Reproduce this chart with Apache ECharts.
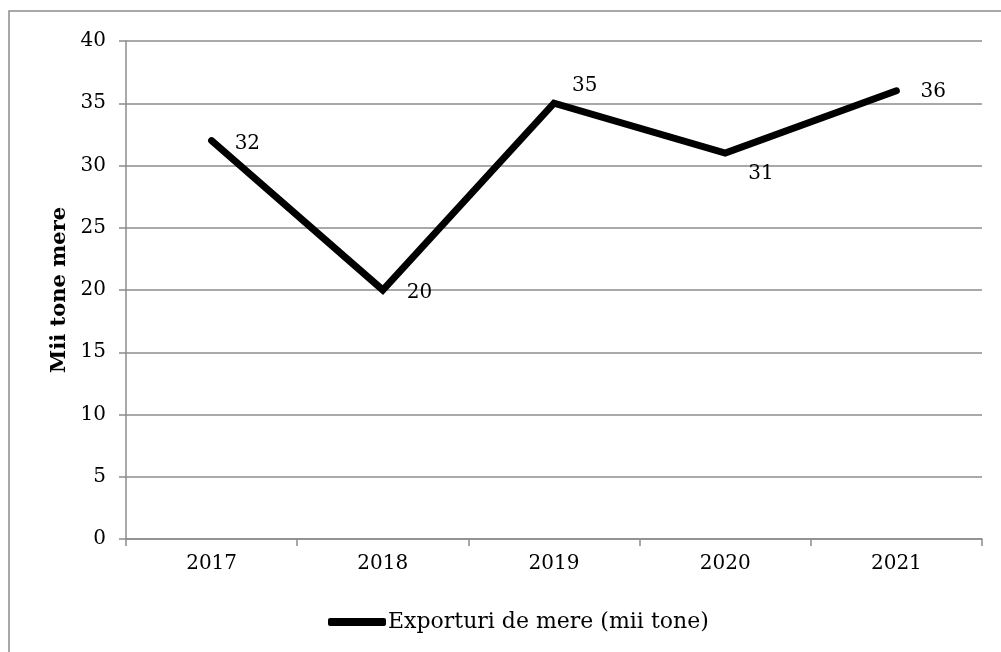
<!DOCTYPE html>
<html><head><meta charset="utf-8">
<script src="https://cdn.jsdelivr.net/npm/echarts@6/dist/echarts.min.js"></script>
<style>html,body{margin:0;padding:0;background:#fff}#c{width:1001px;height:652px}</style>
</head><body><div id="c"></div>
<script>
const categories = ['2017','2018','2019','2020','2021'];
const values = [32, 20, 35, 31, 36];
const yTicks = [0, 5, 10, 15, 20, 25, 30, 35, 40];
const seriesName = 'Exporturi de mere (mii tone)';
const yTitle = 'Mii tone mere';
const labelOffsets = [[18,3],[19,3],[13,-17],[18,21],[19,1]];

const FONT = 'Georgia, "DejaVu Serif", "Liberation Serif", serif';
const chart = echarts.init(document.getElementById('c'), null, {renderer:'canvas'});
chart.setOption({
  animation:false,
  backgroundColor:'#fff',
  graphic:[{type:'rect', shape:{x:9, y:11, width:1100, height:800}, style:{fill:'none', stroke:'#8c8c8c', lineWidth:1.5}, silent:true}],
  grid:{left:126, right:19, top:41, bottom:113},
  legend:{bottom:14, left:323, data:[seriesName], icon:'roundRect', itemWidth:58, itemHeight:8, itemGap:2,
    textStyle:{fontFamily:FONT, fontSize:22, color:'#000', padding:[0,0,0,-3]}},
  xAxis:{type:'category', data:categories, boundaryGap:true,
    axisLine:{lineStyle:{color:'#8c8c8c', width:1.5}},
    axisTick:{show:true, length:7, lineStyle:{color:'#8c8c8c', width:1.5}},
    axisLabel:{fontFamily:FONT, fontSize:20, color:'#000', margin:15}},
  yAxis:{type:'value', min:0, max:40, interval:5,
    name:yTitle, nameLocation:'middle', nameGap:56, nameRotate:90,
    nameTextStyle:{fontFamily:FONT, fontSize:21, fontWeight:'bold', color:'#000'},
    axisLine:{show:true, lineStyle:{color:'#8c8c8c', width:1.5}},
    axisTick:{show:true, length:7, lineStyle:{color:'#8c8c8c', width:1.5}},
    splitLine:{lineStyle:{color:'#8c8c8c', width:1.5}},
    axisLabel:{fontFamily:FONT, fontSize:20, color:'#000', margin:20,
      formatter:v=> yTicks.includes(v)? String(v):''}},
  series:[{name:seriesName, type:'line', data:values.map((v,i)=>({value:v, label:{offset:labelOffsets[i]}})),
    symbol:'circle', symbolSize:0.1, showSymbol:true,
    itemStyle:{color:'#000'},
    lineStyle:{color:'#000', width:7, cap:'round', join:'miter'},
    label:{show:true, position:'right', distance:5, fontFamily:FONT, fontSize:20, color:'#000'}}]
});
</script></body></html>
